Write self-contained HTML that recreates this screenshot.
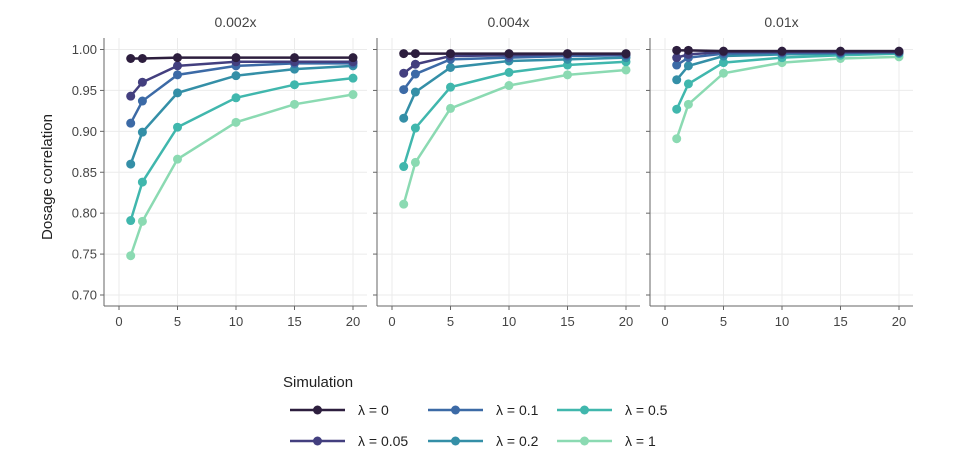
<!DOCTYPE html>
<html><head><meta charset="utf-8"><style>
body{margin:0;background:#fff;font-family:"Liberation Sans","DejaVu Sans",sans-serif}
</style></head><body>
<svg id="chart" width="965" height="469" xmlns="http://www.w3.org/2000/svg" font-family="Liberation Sans, DejaVu Sans, sans-serif"></svg>
<script>
const panels = ["0.002x","0.004x","0.01x"];
const xValues = [1,2,5,10,15,20];
const lambdas = ["λ = 0","λ = 0.05","λ = 0.1","λ = 0.2","λ = 0.5","λ = 1"];
const colors = ["#2d1e3e","#433f7f","#3c6aa6","#348fa7","#40b7ad","#8bdab2"];
const p1 = [[.989,.989,.990,.990,.990,.990],[.943,.960,.980,.985,.985,.985],[.910,.937,.969,.980,.983,.983],[.860,.899,.947,.968,.976,.980],[.791,.838,.905,.941,.957,.965],[.748,.790,.866,.911,.933,.945]];
const p2 = [[.995,.995,.995,.995,.995,.995],[.971,.982,.992,.993,.994,.994],[.951,.970,.988,.990,.992,.993],[.916,.948,.978,.986,.988,.990],[.857,.904,.954,.972,.981,.985],[.811,.862,.928,.956,.969,.975]];
const p3 = [[.999,.999,.998,.998,.998,.998],[.990,.994,.997,.997,.997,.997],[.981,.990,.995,.996,.996,.997],[.963,.980,.992,.994,.995,.996],[.927,.958,.984,.990,.993,.995],[.891,.933,.971,.984,.989,.991]];
const panelData = [p1,p2,p3];
const yTicks = [0.70,0.75,0.80,0.85,0.90,0.95,1.00];
const xTicks = [0,5,10,15,20];

const svg = document.getElementById('chart');
const NS = "http://www.w3.org/2000/svg";
function mk(tag, attrs, parent){const e=document.createElementNS(NS,tag);for(const k in attrs)e.setAttribute(k,attrs[k]);(parent||svg).appendChild(e);return e;}
const panelLeft=[104,377,650], panelW=263, x0off=15, xScaleW=234;
function xs(p,v){return panelLeft[p]+x0off+v/20*xScaleW;}
function ys(v){return 49.5+(1-v)/0.3*245.5;}
const plotTop=38, plotBottom=306;

const yl = mk('text',{x:52,y:177,'font-size':15,fill:'#222','text-anchor':'middle',transform:'rotate(-90 52 177)'});


yl.textContent='Dosage correlation';

yTicks.forEach(t=>{
  const tx=mk('text',{x:97,y:ys(t)+4.5,'font-size':13,fill:'#444','text-anchor':'end'});
  
  
  tx.textContent=t.toFixed(2);
});

panels.forEach((name,p)=>{
  const g=mk('g',{});
  
  
  const L=panelLeft[p];
  yTicks.forEach(t=>mk('line',{x1:L,x2:L+panelW,y1:ys(t),y2:ys(t),stroke:'#ebebeb','stroke-width':1},g));
  xTicks.forEach(t=>mk('line',{x1:xs(p,t),x2:xs(p,t),y1:plotTop,y2:plotBottom,stroke:'#ebebeb','stroke-width':1},g));
  mk('line',{x1:L,x2:L,y1:plotTop,y2:plotBottom,stroke:'#666','stroke-width':1},g);
  mk('line',{x1:L,x2:L+panelW,y1:plotBottom,y2:plotBottom,stroke:'#666','stroke-width':1},g);
  xTicks.forEach(t=>{
    mk('line',{x1:xs(p,t),x2:xs(p,t),y1:plotBottom,y2:plotBottom+4,stroke:'#666'},g);
    const tx=mk('text',{x:xs(p,t),y:plotBottom+20,'font-size':13,fill:'#444','text-anchor':'middle'},g);
    
    
    tx.textContent=t;
  });
  yTicks.forEach(t=>mk('line',{x1:L-4,x2:L,y1:ys(t),y2:ys(t),stroke:'#666'},g));
  const tt=mk('text',{x:L+panelW/2,y:27,'font-size':14,fill:'#444','text-anchor':'middle'},g);
  
  
  tt.textContent=name;
  for(let s=lambdas.length-1;s>=0;s--){
    const vals=panelData[p][s];
    const pts=vals.map((v,i)=>xs(p,xValues[i])+','+ys(v)).join(' ');
    const pl=mk('polyline',{points:pts,fill:'none',stroke:colors[s],'stroke-width':2.5},g);
    
    
    vals.forEach((v,i)=>{
      const c=mk('circle',{cx:xs(p,xValues[i]),cy:ys(v),r:4.5,fill:colors[s]},g);
      
      
    });
  }
});

const lg=mk('g',{});


const lt=mk('text',{x:283,y:387,'font-size':15,fill:'#222'},lg);


lt.textContent='Simulation';
const colX=[290,428,557], rowY=[410,441];
lambdas.forEach((lab,i)=>{
  const c=Math.floor(i/2), r=i%2;
  const x=colX[c], y=rowY[r];
  const e=mk('g',{},lg);
  
  
  mk('line',{x1:x,x2:x+55,y1:y,y2:y,stroke:colors[i],'stroke-width':2.5},e);
  mk('circle',{cx:x+27.5,cy:y,r:4.5,fill:colors[i]},e);
  const t=mk('text',{x:x+68,y:y+5,'font-size':14,fill:'#222'},e);
  t.textContent=lab;
});
</script>
</body></html>
